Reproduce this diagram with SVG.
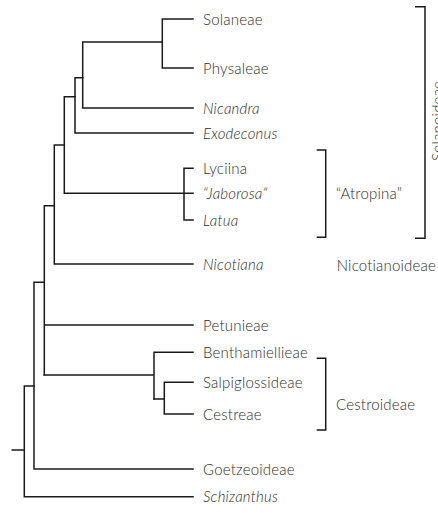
<svg xmlns="http://www.w3.org/2000/svg" width="438" height="513" viewBox="0 0 438 513">
<style>
.e{stroke:#1a1a1a;stroke-width:1.5;fill:none;stroke-linecap:square}
.b{stroke:#1a1a1a;stroke-width:1.5;fill:none}
text{font-family:Lato,"Open Sans","Liberation Sans",sans-serif;font-size:15px;letter-spacing:0.2px;fill:#2e2e2e;font-weight:300}
.i{font-style:italic}
</style>
<rect width="438" height="513" fill="#fff"/>
<g id="connectors">
<path class="e" d="M162.3,19V68M162.3,19H193M162.3,68H193"/>
<path class="e" d="M82.7,42H162.3M82.7,42V108H193"/>
<path class="e" d="M75,77.7H82.7M75,77.7V133H193"/>
<path class="e" d="M64.3,96.7H75M64.3,96.7V193.3H193"/>
<path class="e" d="M184,168.3V220M184,168.3H193M184,220H193"/>
<path class="e" d="M54.3,145H64.3M54.3,145V264H193"/>
<path class="e" d="M44.3,205.7H54.3M44.3,205.7V375M44.3,325H193"/>
<path class="e" d="M44.3,375H154M154,352.3V399M154,352.3H193"/>
<path class="e" d="M154,399H164.3M164.3,382.3V414M164.3,382.3H193M164.3,414H193"/>
<path class="e" d="M34,282.3H44.3M34,282.3V469H193"/>
<path class="e" d="M24.3,386H34M24.3,386V496.7H193"/>
<path class="e" d="M12.3,450H24.3"/>
</g>
<g id="n-solaneae"><text x="203" y="24.5">Solaneae</text></g>
<g id="n-physaleae"><text x="203" y="73.5">Physaleae</text></g>
<g id="n-nicandra"><text class="i" x="203" y="113.5">Nicandra</text></g>
<g id="n-exodeconus"><text class="i" x="203" y="138.5">Exodeconus</text></g>
<g id="n-lyciina"><text x="203" y="173.5">Lyciina</text></g>
<g id="n-jaborosa"><text class="i" x="203" y="198.5">“Jaborosa”</text></g>
<g id="n-latua"><text class="i" x="203" y="225.5">Latua</text></g>
<g id="n-nicotiana"><text class="i" x="203" y="269.5">Nicotiana</text></g>
<g id="n-petunieae"><text x="203" y="330.5">Petunieae</text></g>
<g id="n-benthamiellieae"><text x="203" y="357.5">Benthamiellieae</text></g>
<g id="n-salpiglossideae"><text x="203" y="387.5">Salpiglossideae</text></g>
<g id="n-cestreae"><text x="203" y="419.5">Cestreae</text></g>
<g id="n-goetzeoideae"><text x="203" y="474.5">Goetzeoideae</text></g>
<g id="n-schizanthus"><text class="i" x="203" y="502">Schizanthus</text></g>
<g id="g-solanoideae">
<path class="b" d="M415,6.7H425V238.3H415"/>
<text transform="translate(442.5,121) rotate(-90)" text-anchor="middle">Solanoideae</text>
</g>
<g id="g-atropina">
<path class="b" d="M316.7,150H325.7V237.3H316.7"/>
<text x="336" y="198.5">“Atropina”</text>
</g>
<g id="g-nicotianoideae"><text x="336.7" y="270.5">Nicotianoideae</text></g>
<g id="g-cestroideae">
<path class="b" d="M316.7,358.3H325.7V430H316.7"/>
<text x="336" y="409.5">Cestroideae</text>
</g>
</svg>
